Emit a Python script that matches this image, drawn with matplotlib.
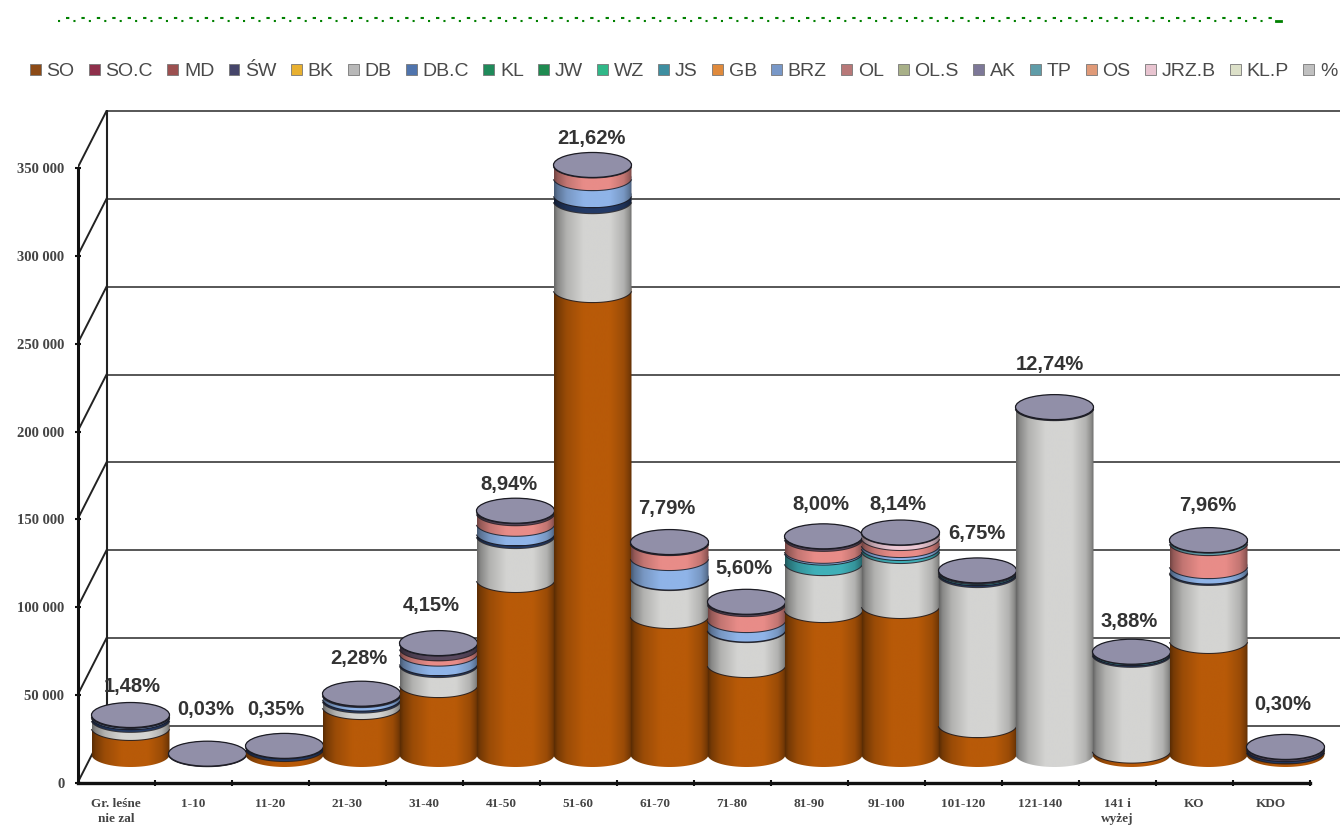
#!/usr/bin/env python3
"""stacked cylinder chart, saved as out.png"""
import matplotlib
matplotlib.use('Agg')
import matplotlib.pyplot as plt
from matplotlib.colors import to_rgb
from matplotlib.lines import Line2D
from matplotlib.patches import Patch, PathPatch, Ellipse
from matplotlib.path import Path
import numpy as np

categories = ['Gr. leśne\nnie zal', '1-10', '11-20', '21-30', '31-40', '41-50', '51-60', '61-70',
	'71-80', '81-90', '91-100', '101-120', '121-140', '141 i\nwyżej', 'KO', 'KDO']
pct_labels = ['1,48%', '0,03%', '0,35%', '2,28%', '4,15%', '8,94%', '21,62%', '7,79%',
	'5,60%', '8,00%', '8,14%', '6,75%', '12,74%', '3,88%', '7,96%', '0,30%']

so = [15400, 0, 3400, 27300, 39800, 99600, 264600, 79100, 51200, 82500, 84800, 17000, 0, 2500, 64900, 2000]
db = [4600, 0, 0, 3700, 11400, 25000, 50600, 21600, 19900, 26700, 31300, 85400, 197400, 54500, 38700, 0]
db_c = [1500, 0, 1500, 1100, 1000, 1500, 3400, 300, 300, 0, 0, 1000, 300, 800, 800, 1300]
js = [0, 0, 0, 0, 0, 0, 0, 0, 0, 6000, 1700, 700, 0, 700, 0, 0]
brz = [700, 0, 0, 2000, 5500, 5500, 9700, 11100, 5400, 1000, 1700, 0, 0, 0, 3100, 0]
ol = [0, 0, 0, 0, 3000, 6000, 7200, 8500, 9100, 6800, 4000, 0, 0, 0, 13100, 0]
ak = [275, 466, 0, 500, 2700, 1150, 0, 300, 1000, 1160, 0, 660, 0, 0, 0, 1000]
tp = [0, 0, 0, 0, 0, 0, 0, 0, 0, 0, 0, 0, 0, 0, 1400, 0]
jrz_b = [0, 0, 0, 0, 0, 0, 0, 0, 0, 0, 2830, 0, 0, 0, 0, 0]
empty = [0] * 16

legend_names = ['SO', 'SO.C', 'MD', 'ŚW', 'BK', 'DB', 'DB.C', 'KL', 'JW', 'WZ', 'JS', 'GB', 'BRZ',
	'OL', 'OL.S', 'AK', 'TP', 'OS', 'JRZ.B', 'KL.P', '%']
legend_colors = ['#8c4a16', '#8e2f4a', '#9c5050', '#45456a', '#e8b030', '#b8b8b8', '#4f74ad', '#1f8a5a',
	'#1f8a50', '#30b888', '#3d8ea0', '#e08a3c', '#7898c8', '#b87878', '#a8b088', '#7d7898',
	'#5f9ca8', '#e09a78', '#e8c4d0', '#dce0c8', '#c0c0c0']
colors = ['#b85a08', '#a8304f', '#b05a58', '#45456a', '#f0b428', '#d4d4d2', '#233a66', '#1f8f5c',
	'#1f8f52', '#30bc8c', '#3fb0b8', '#e88c3c', '#8fb4e8', '#e88c88', '#aab48c', '#5a4a60',
	'#5f9ca8', '#e89c78', '#ecc8d4', '#dde0c8', '#c4c4c4']
stack = [so, empty, empty, empty, empty, db, db_c, empty, empty, empty, js, empty, brz,
	ol, empty, ak, tp, empty, jrz_b, empty, empty]

yticks = [0, 50000, 100000, 150000, 200000, 250000, 300000, 350000]
ylabels = ['0', '50 000', '100 000', '150 000', '200 000', '250 000', '300 000', '350 000']

# pixels: label shift from the centre of each top cap
label_shift = [(2, 29), (-2, 44), (-9, 36), (-3, 35), (-7, 38), (-7, 26), (-1, 26), (-3, 34),
	(-3, 33), (-3, 32), (-3, 28), (-1, 37), (-5, 43), (-2, 30), (-1, 35), (-3, 42)]

W, H = 1340, 827
STEP = 77.0  # px per category
PXV = 350000 / 615.0  # value per px
depth_x = 29 / STEP
depth_y = 57 * PXV
rx = 39 / STEP
ry = 12.5 * PXV
cap_color = '#918fa8'
edge_color = '#1c1c24'


def shade(color):
	t = np.linspace(0, 1, 80)
	k = np.interp(t, [0, .04, .16, .38, .72, .9, .97, 1], [.5, .64, .84, 1, 1, .84, .66, .52])
	return (np.outer(k, to_rgb(color)))[None, :, :].clip(0, 1)


def front_arc(xc, y, trim=0.0):
	th = np.linspace(np.pi + trim, 2 * np.pi - trim, 40)
	return xc + rx * np.cos(th), y + ry * np.sin(th)


def draw_segment(ax, xc, bottom, top, color, z):
	# body: front arc at the bottom, back arc of the top ellipse
	xb, yb = front_arc(xc, bottom)
	th = np.linspace(0, np.pi, 40)
	xt, yt = xc + rx * np.cos(th), top + ry * np.sin(th)
	verts = np.column_stack((np.r_[xb, xt], np.r_[yb, yt]))
	patch = PathPatch(Path(verts), facecolor='none', edgecolor='none', zorder=z)
	ax.add_patch(patch)
	im = ax.imshow(shade(color), extent=(xc - rx, xc + rx, bottom - ry, top + ry),
		aspect='auto', interpolation='bilinear', zorder=z)
	im.set_clip_path(patch)
	xa, ya = front_arc(xc, top, trim=0.12)
	ax.plot(xa, ya, color=edge_color, lw=1.5, zorder=z + 0.5, solid_capstyle='butt', alpha=.85)


def main():
	plt.rcParams['font.family'] = ['Liberation Sans', 'DejaVu Sans']
	fig = plt.figure(figsize=(W / 100, H / 100), dpi=100)
	ax = fig.add_axes([77.5 / W, 44 / H, (W - 77.5) / W, (783 - 110) / H])
	xmax = (W - 77.5) / STEP - 0.5
	ax.set_xlim(-0.5, xmax)
	ax.set_ylim(0, 673 * PXV)

	# walls
	x0 = -0.5 + depth_x
	for v in yticks:
		ax.plot([x0, xmax], [v + depth_y, v + depth_y], color='#3a3a3a', lw=1.2, zorder=1)
		ax.plot([-0.5, x0], [v, v + depth_y], color='#222222', lw=1.4, zorder=1)
	ax.plot([x0, x0], [depth_y, yticks[-1] + depth_y], color='#222222', lw=1.5, zorder=1)

	# cylinders
	offset_x = depth_x / 2
	offset_y = depth_y / 2
	z = 3
	for i in range(len(categories)):
		xc = i + offset_x
		level = offset_y
		for series, color in zip(stack, colors):
			v = series[i]
			if v <= 0:
				continue
			draw_segment(ax, xc, level, level + v, color, z)
			level += v
			z += 1
		ax.add_patch(Ellipse((xc, level), 2 * rx, 2 * ry, facecolor=cap_color,
			edgecolor=edge_color, lw=0.9, zorder=z))
		z += 1
		ax.annotate(pct_labels[i], xy=(xc, level), xytext=label_shift[i], textcoords='offset pixels',
			ha='center', va='center', fontsize=14.5, fontweight='bold', color='#333333', zorder=200)

	# axes
	for side in ('top', 'right'):
		ax.spines[side].set_visible(False)
	ax.patch.set_visible(False)
	ax.spines['left'].set_bounds(0, yticks[-1])
	ax.spines['bottom'].set_bounds(-0.5, len(categories) - 0.5)
	ax.spines['left'].set_linewidth(2.2)
	ax.spines['bottom'].set_linewidth(2.4)
	ax.spines['left'].set_color('#111111')
	ax.spines['bottom'].set_color('#111111')
	ax.set_yticks(yticks)
	ax.set_yticklabels(ylabels, family='Liberation Serif', fontweight='bold', fontsize=10.5, color='#444444')
	ax.tick_params(axis='y', length=5, width=1.5, direction='inout', pad=7, color='#111111')
	ax.set_xticks(range(len(categories)))
	ax.set_xticklabels(categories, family='Liberation Serif', fontweight='bold', fontsize=9.5,
		color='#444444', linespacing=1.35)
	ax.set_xticks(np.arange(0.5, len(categories) - 0.4, 1), minor=True)
	ax.tick_params(axis='x', which='major', length=0, pad=11)
	ax.tick_params(axis='x', which='minor', length=5, width=1.5, direction='inout', color='#111111')

	# legend row
	handles = [Patch(facecolor=c, edgecolor='#777777', lw=0.6) for c in legend_colors]
	fig.legend(handles, legend_names, loc='center left', bbox_to_anchor=(30 / W, 1 - 72 / H), ncol=len(handles),
		frameon=False, fontsize=14, handlelength=0.55, handleheight=0.55, handletextpad=0.3,
		columnspacing=0.74, labelcolor='#4a4a4a', borderpad=0, borderaxespad=0)

	# dotted green rule at the top
	y1, y2 = 1 - 20.5 / H, 1 - 17.5 / H
	xa, xb = 58 / W, 1276 / W
	fig.add_artist(Line2D([xa, xb], [y1, y1], color='#008000', lw=1.5, dashes=(1.0, 6.4)))
	fig.add_artist(Line2D([xa + 8 / W, xb], [y2, y2], color='#008000', lw=1.5, dashes=(1.6, 5.8)))
	fig.add_artist(Line2D([xb, 1281 / W], [y1, y1], color='#008000', lw=2))

	fig.savefig('out.png', dpi=100, facecolor='white')


if __name__ == '__main__':
	main()
